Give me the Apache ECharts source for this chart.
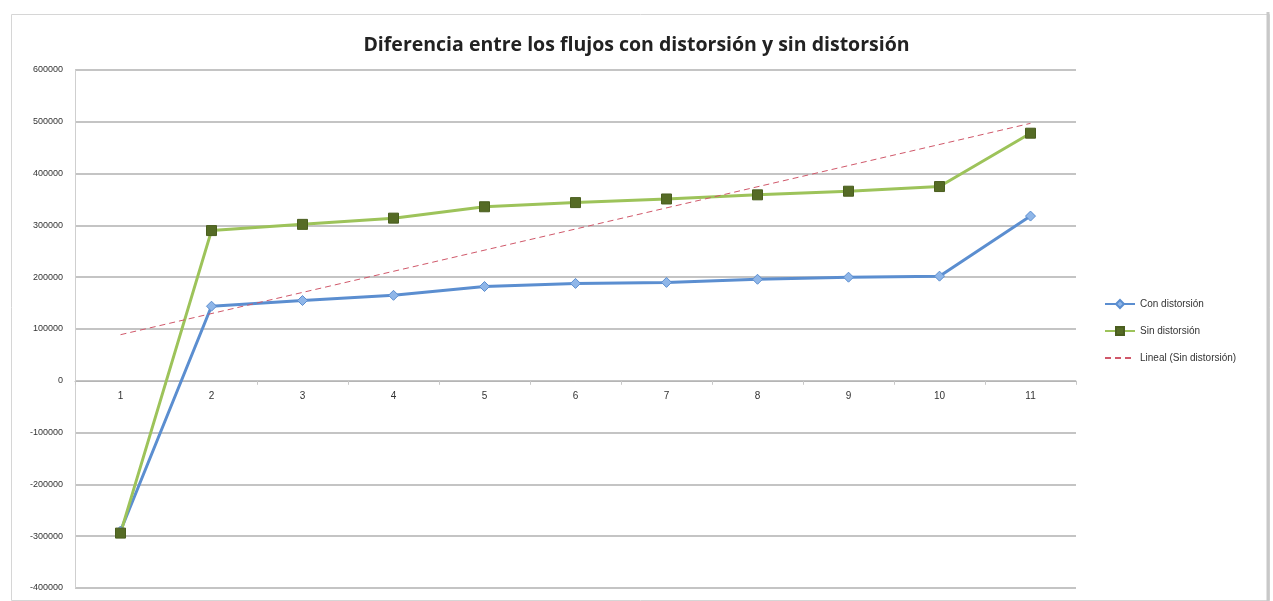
<!DOCTYPE html>
<html><head><meta charset="utf-8">
<script src="https://cdn.jsdelivr.net/npm/echarts@6/dist/echarts.min.js"></script>
<style>html,body{margin:0;padding:0;background:#fff}#c{width:1273px;height:601px}</style>
</head><body><div id="c"></div>
<script>
const categories = ['1','2','3','4','5','6','7','8','9','10','11'];
const conDistorsion = [-290000, 144000, 155000, 165000, 182000, 188000, 190000, 196000, 200000, 202000, 318000];
const sinDistorsion = [-294000, 290000, 302000, 314000, 336000, 344000, 351000, 359000, 366000, 375000, 478000];
const lineal = [89000, null, null, null, null, null, null, null, null, null, 497000];
const seriesNames = ['Con distorsión', 'Sin distorsión', 'Lineal (Sin distorsión)'];
const yMin = -400000, yMax = 600000;

const gridTop = 70, gridBottom = 13, chartH = 601;
const plotH = chartH - gridTop - gridBottom;
const zeroOffset = -plotH * (0 - yMin) / (yMax - yMin);

const chart = echarts.init(document.getElementById('c'));
chart.setOption({
  animation: false,
  backgroundColor: '#fff',
  title: {
    text: 'Diferencia entre los flujos con distorsión y sin distorsión',
    left: 'center', top: 30,
    textStyle: { fontFamily: 'Open Sans', fontSize: 19.5, fontWeight: 'bold', color: '#222' }
  },
  graphic: [
    { type: 'rect', left: 9, top: 12, shape: { width: 1258, height: 586 },
      style: { fill: 'none', stroke: '#d6d6d6', lineWidth: 1 } },
    { type: 'line', shape: { x1: 1268, y1: 12, x2: 1268, y2: 601 },
      style: { stroke: '#c8c8c8', lineWidth: 3 } }
  ],
  legend: {
    orient: 'vertical', left: 1099, top: 294, itemGap: 17,
    itemWidth: 30, itemHeight: 10,
    textStyle: { fontFamily: 'Liberation Sans', fontSize: 10, color: '#333' },
    data: [
      { name: seriesNames[0] },
      { name: seriesNames[1] },
      { name: seriesNames[2], itemStyle: { opacity: 0 } }
    ]
  },
  grid: { left: 75, right: 197, top: gridTop, bottom: gridBottom, outerBoundsMode: 'none', containLabel: false },
  xAxis: {
    type: 'category', data: categories, boundaryGap: true,
    offset: zeroOffset,
    axisLine: { onZero: false, lineStyle: { color: '#b5b5b5', width: 1 } },
    axisTick: { show: true, length: 4, lineStyle: { color: '#c8c8c8' } },
    axisLabel: { fontFamily: 'Liberation Sans', fontSize: 10, color: '#333', margin: 10 },
    splitLine: { show: false }
  },
  yAxis: {
    type: 'value', min: yMin, max: yMax, interval: 100000,
    axisLine: { show: true, lineStyle: { color: '#cfcfcf' } },
    axisTick: { show: false },
    axisLabel: { fontFamily: 'Liberation Sans', fontSize: 9, color: '#333', margin: 12, formatter: v => String(v) },
    splitLine: { lineStyle: { color: '#c4c4c4', width: 2 } }
  },
  series: [
    {
      name: seriesNames[0], type: 'line', data: conDistorsion,
      symbol: 'diamond', symbolSize: 10,
      lineStyle: { color: '#5b8ed0', width: 3 },
      itemStyle: { color: '#8fb6e8', borderColor: '#5b8ed0', borderWidth: 1 },
      z: 3
    },
    {
      name: seriesNames[1], type: 'line', data: sinDistorsion,
      symbol: 'rect', symbolSize: 10,
      lineStyle: { color: '#9dc35a', width: 3 },
      itemStyle: { color: '#556b25', borderColor: '#4a5e1f', borderWidth: 1 },
      z: 3
    },
    {
      name: seriesNames[2], type: 'line', data: lineal, connectNulls: true,
      symbol: 'none',
      lineStyle: { color: '#d0586a', width: 1, type: [6, 4] },
      itemStyle: { color: '#d0586a' },
      z: 4
    }
  ]
});
</script></body></html>
